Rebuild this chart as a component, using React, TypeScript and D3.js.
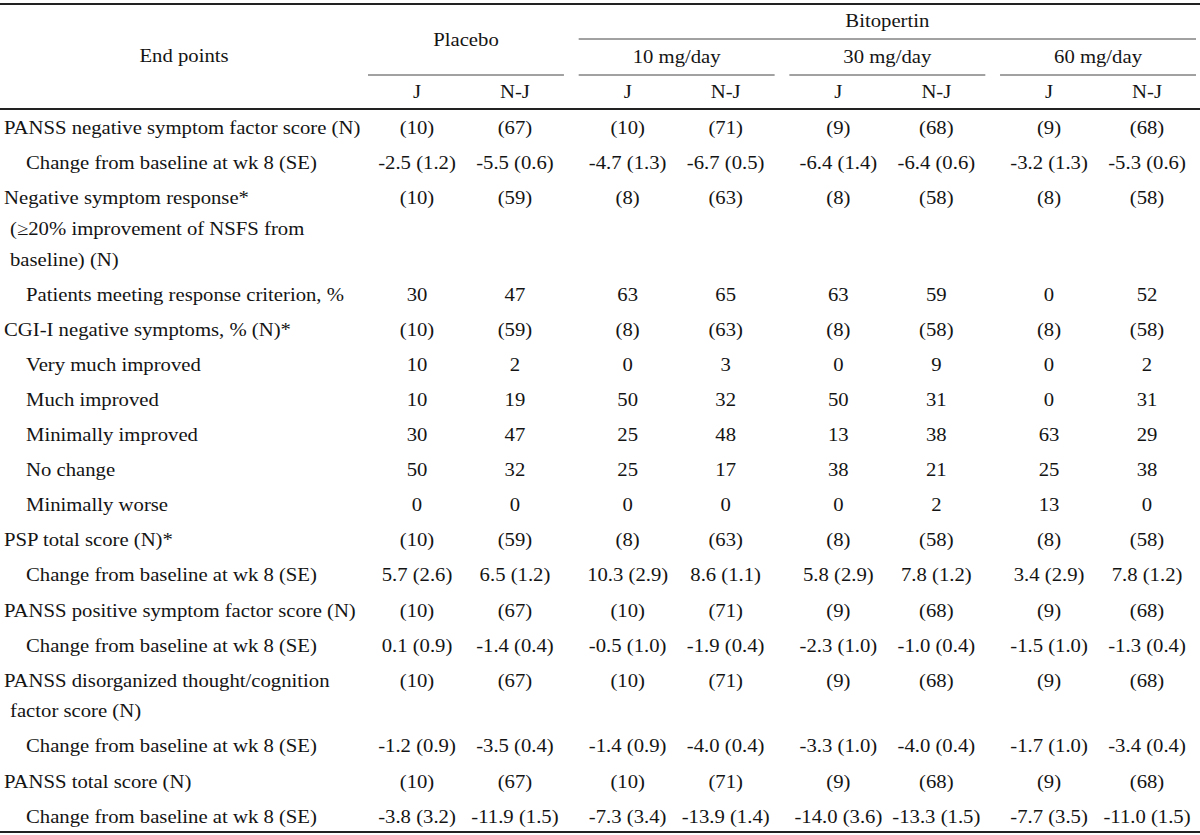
import React from "react";
import * as d3 from "d3";

// ---------- data ----------
const groups = ["Placebo", "10 mg/day", "30 mg/day", "60 mg/day"];
const subCols = ["J", "N-J"];
const superHeader = "Bitopertin";
const stubHeader = "End points";

// label lines and indent level (0 = main, 1 = sub-item)
const rowLabels: string[][] = [
  ["PANSS negative symptom factor score (N)"],
  ["Change from baseline at wk 8 (SE)"],
  ["Negative symptom response*", "(≥20% improvement of NSFS from", "baseline) (N)"],
  ["Patients meeting response criterion, %"],
  ["CGI-I negative symptoms, % (N)*"],
  ["Very much improved"],
  ["Much improved"],
  ["Minimally improved"],
  ["No change"],
  ["Minimally worse"],
  ["PSP total score (N)*"],
  ["Change from baseline at wk 8 (SE)"],
  ["PANSS positive symptom factor score (N)"],
  ["Change from baseline at wk 8 (SE)"],
  ["PANSS disorganized thought/cognition", "factor score (N)"],
  ["Change from baseline at wk 8 (SE)"],
  ["PANSS total score (N)"],
  ["Change from baseline at wk 8 (SE)"],
];
const rowIndent = [0, 1, 0, 1, 0, 1, 1, 1, 1, 1, 0, 1, 0, 1, 0, 1, 0, 1];

const placeboJ = ["(10)", "-2.5 (1.2)", "(10)", "30", "(10)", "10", "10", "30", "50", "0", "(10)", "5.7 (2.6)", "(10)", "0.1 (0.9)", "(10)", "-1.2 (0.9)", "(10)", "-3.8 (3.2)"];
const placeboNJ = ["(67)", "-5.5 (0.6)", "(59)", "47", "(59)", "2", "19", "47", "32", "0", "(59)", "6.5 (1.2)", "(67)", "-1.4 (0.4)", "(67)", "-3.5 (0.4)", "(67)", "-11.9 (1.5)"];
const bit10J = ["(10)", "-4.7 (1.3)", "(8)", "63", "(8)", "0", "50", "25", "25", "0", "(8)", "10.3 (2.9)", "(10)", "-0.5 (1.0)", "(10)", "-1.4 (0.9)", "(10)", "-7.3 (3.4)"];
const bit10NJ = ["(71)", "-6.7 (0.5)", "(63)", "65", "(63)", "3", "32", "48", "17", "0", "(63)", "8.6 (1.1)", "(71)", "-1.9 (0.4)", "(71)", "-4.0 (0.4)", "(71)", "-13.9 (1.4)"];
const bit30J = ["(9)", "-6.4 (1.4)", "(8)", "63", "(8)", "0", "50", "13", "38", "0", "(8)", "5.8 (2.9)", "(9)", "-2.3 (1.0)", "(9)", "-3.3 (1.0)", "(9)", "-14.0 (3.6)"];
const bit30NJ = ["(68)", "-6.4 (0.6)", "(58)", "59", "(58)", "9", "31", "38", "21", "2", "(58)", "7.8 (1.2)", "(68)", "-1.0 (0.4)", "(68)", "-4.0 (0.4)", "(68)", "-13.3 (1.5)"];
const bit60J = ["(9)", "-3.2 (1.3)", "(8)", "0", "(8)", "0", "0", "63", "25", "13", "(8)", "3.4 (2.9)", "(9)", "-1.5 (1.0)", "(9)", "-1.7 (1.0)", "(9)", "-7.7 (3.5)"];
const bit60NJ = ["(68)", "-5.3 (0.6)", "(58)", "52", "(58)", "2", "31", "29", "38", "0", "(58)", "7.8 (1.2)", "(68)", "-1.3 (0.4)", "(68)", "-3.4 (0.4)", "(68)", "-11.0 (1.5)"];

const columns = [placeboJ, placeboNJ, bit10J, bit10NJ, bit30J, bit30NJ, bit60J, bit60NJ];

// ---------- layout ----------
const W = 1200;
const H = 835;
const FS = 18.5;
const SX = 1.12;
const INK = "#141414";
const FONT = "'Liberation Serif', 'Times New Roman', serif";

const groupScale = d3.scaleBand<string>().domain(groups).range([368, 1196]).paddingInner(0.07);
const subScale = d3.scaleBand<string>().domain(subCols).range([0, groupScale.bandwidth()]);
const colCenter = (i: number) => {
  const g = groups[Math.floor(i / 2)];
  const s = subCols[i % 2];
  return (groupScale(g) as number) + (subScale(s) as number) + subScale.bandwidth() / 2;
};

// vertical: row step and continuation-line step
const ROW = 35.1;
const CONT = 30.6;
const firstRowY = 128;
const rowStart: number[] = [];
{
  let y = firstRowY;
  rowLabels.forEach((lines) => {
    rowStart.push(y);
    y += ROW + (lines.length - 1) * CONT;
  });
}

function T({ x, y, anchor = "start", children }: { x: number; y: number; anchor?: string; children: React.ReactNode }) {
  return (
    <text
      transform={`translate(${x},${y + FS * 0.33}) scale(${SX},1)`}
      textAnchor={anchor}
      fontFamily={FONT}
      fontSize={FS}
      fill={INK}
    >
      {children}
    </text>
  );
}

export default function App() {
  const bitStart = groupScale(groups[1]) as number;
  return (
    <svg
      width={W}
      height={H}
      viewBox={`0 0 ${W} ${H}`}
      style={{ position: "absolute", left: 0, top: 0, background: "#fff" }}
    >
      <rect x={0} y={0} width={W} height={H} fill="#fff" />
      {/* rules */}
      <line x1={0} x2={W} y1={4} y2={4} stroke="#222" strokeWidth={1.8} />
      <line x1={bitStart} x2={1196} y1={39} y2={39} stroke="#444" strokeWidth={1} />
      {groups.map((g) => (
        <line
          key={g}
          x1={groupScale(g) as number}
          x2={(groupScale(g) as number) + groupScale.bandwidth()}
          y1={75}
          y2={75}
          stroke="#444"
          strokeWidth={1}
        />
      ))}
      <line x1={0} x2={W} y1={109} y2={109} stroke="#222" strokeWidth={1.8} />
      <line x1={0} x2={W} y1={832} y2={832} stroke="#222" strokeWidth={1.8} />

      {/* header */}
      <T x={184} y={56} anchor="middle">{stubHeader}</T>
      <T x={(groupScale(groups[0]) as number) + groupScale.bandwidth() / 2} y={40} anchor="middle">
        {groups[0]}
      </T>
      <T x={(bitStart + 1196) / 2} y={21} anchor="middle">{superHeader}</T>
      {groups.slice(1).map((g) => (
        <T key={g} x={(groupScale(g) as number) + groupScale.bandwidth() / 2} y={57} anchor="middle">
          {g}
        </T>
      ))}
      {columns.map((_, i) => (
        <T key={"h" + i} x={colCenter(i)} y={92} anchor="middle">
          {subCols[i % 2]}
        </T>
      ))}

      {/* body */}
      {rowLabels.map((lines, r) =>
        lines.map((ln, k) => (
          <T
            key={`l${r}-${k}`}
            x={rowIndent[r] === 1 ? 26 : k === 0 ? 4 : 10}
            y={rowStart[r] + k * CONT}
          >
            {ln}
          </T>
        ))
      )}
      {columns.map((col, i) =>
        col.map((v, r) => (
          <T key={`v${i}-${r}`} x={colCenter(i)} y={rowStart[r]} anchor="middle">
            {v}
          </T>
        ))
      )}
    </svg>
  );
}
